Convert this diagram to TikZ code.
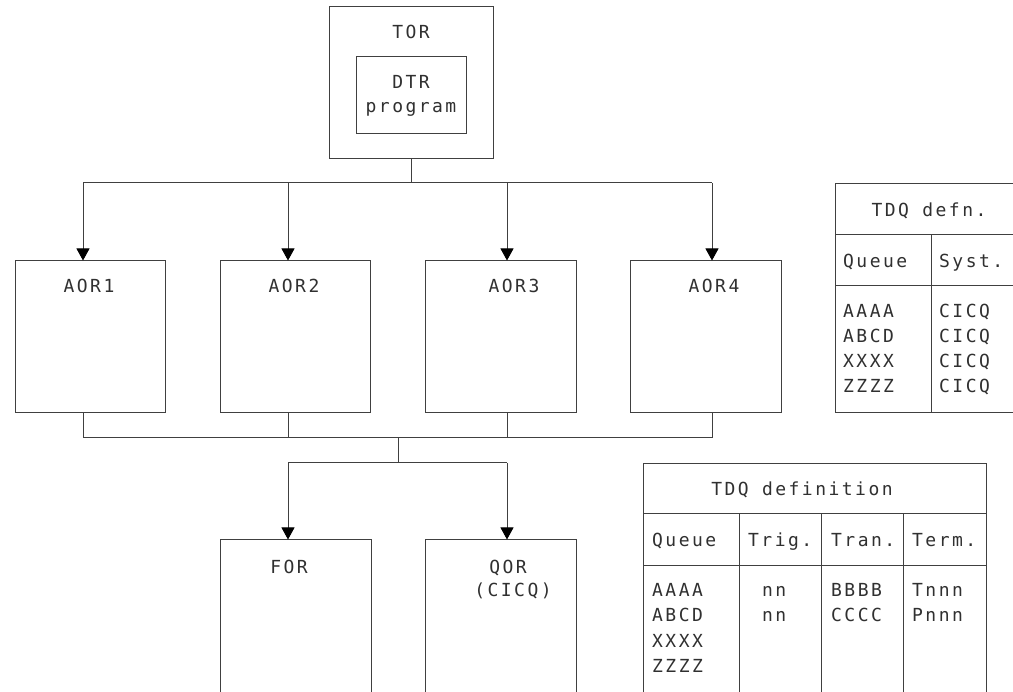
\documentclass[tikz,border=0pt]{standalone}
\usepackage{fontspec}
\usetikzlibrary{arrows.meta}
\newfontfamily\ibmfont{DejaVu Sans Mono}[LetterSpace=13.7]
\definecolor{linec}{HTML}{404040}
\definecolor{textc}{HTML}{303030}
\tikzset{
  box/.style={draw=linec, line width=1pt, minimum width=#1, inner sep=0pt},
  lbl/.style={text=textc, font=\ibmfont\fontsize{18}{25}\selectfont, inner sep=0pt},
  lblw/.style={lbl, anchor=base west},
  lblc/.style={lbl, anchor=base},
  wire/.style={draw=linec, line width=1pt},
  arr/.style={wire, -{Triangle[width=13pt,length=12pt,color=black]}, shorten >=0pt}
}
\begin{document}
\begin{tikzpicture}[x=1pt,y=-1pt]
\useasboundingbox (0,0) rectangle (1013,692);
\fill[white] (0,0) rectangle (1013,692);
\clip (0,0) rectangle (1013,692);

% TOR
\node[box=164pt, minimum height=152pt] (tor) at (411,83) {};
\node[box=110pt, minimum height=77pt] (dtr) at (411,95.5) {};
\node[lblc] (tortxt) at (411,38.5) {TOR};
\node[lblc] (dtrtxt) at (411,88.3) {DTR};
\node[lblc] (progtxt) at (411,113) {program};

% AOR boxes
\node[box=150pt, minimum height=152pt] (aor1) at (90,337) {};
\node[box=150pt, minimum height=152pt] (aor2) at (295,337) {};
\node[box=151pt, minimum height=152pt] (aor3) at (500.5,337) {};
\node[box=151pt, minimum height=152pt] (aor4) at (705.5,337) {};
\node[lblc] (a1t) at (89,293) {AOR1};
\node[lblc] (a2t) at (294,293) {AOR2};
\node[lblc] (a3t) at (514,293) {AOR3};
\node[lblc] (a4t) at (714,293) {AOR4};

% top bus
\coordinate (j0) at (411,183);
\coordinate (j1) at (83,183);
\coordinate (j2) at (288,183);
\coordinate (j3) at (507,183);
\coordinate (j4) at (712,183);
\draw[wire] (tor.south -| j0) -- (j0);
\draw[wire] (j1) -- (j4);
\draw[arr] (j1) -- (j1 |- aor1.north);
\draw[arr] (j2) -- (j2 |- aor2.north);
\draw[arr] (j3) -- (j3 |- aor3.north);
\draw[arr] (j4) -- (j4 |- aor4.north);

% bottom bus
\coordinate (k1) at (83,438);
\coordinate (k2) at (288,438);
\coordinate (k3) at (507,438);
\coordinate (k4) at (712,438);
\coordinate (m1) at (398,438);
\coordinate (m2) at (398,463);
\coordinate (n1) at (288,463);
\coordinate (n2) at (507,463);
\draw[wire] (k1 |- aor1.south) -- (k1);
\draw[wire] (k2 |- aor2.south) -- (k2);
\draw[wire] (k3 |- aor3.south) -- (k3);
\draw[wire] (k4 |- aor4.south) -- (k4);
\draw[wire] (k1) -- (k4);
\draw[wire] (m1) -- (m2);
\draw[wire] (n1) -- (n2);

% FOR / QOR
\node[box=151pt, minimum height=200pt] (for) at (295.5,640) {};
\node[box=151pt, minimum height=200pt] (qor) at (500.5,640) {};
\draw[arr] (n1) -- (n1 |- for.north);
\draw[arr] (n2) -- (n2 |- qor.north);
\node[lblc] (fort) at (289,573) {FOR};
\node[lblc] (qort) at (508,573) {QOR};
\node[lblc] (qorc) at (513,597) {(CICQ)};

% TDQ defn table
\node[box=188pt, minimum height=229pt] (t1) at (929,298.5) {};
\coordinate (t1h) at (835,235);
\coordinate (t1r) at (835,286);
\coordinate (t1c) at (931,235);
\draw[wire] (t1h) -- (t1h -| t1.east);
\draw[wire] (t1r) -- (t1r -| t1.east);
\draw[wire] (t1c) -- (t1c |- t1.south);
\node[lblc] (t1title) at (929,216.7) {TDQ defn.};
\node[lblw] (t1q) at (843,268) {Queue};
\node[lblw] (t1s) at (939,268) {Syst.};
\node[lblw] (t1a) at (843,318) {AAAA};
\node[lblw] (t1b) at (843,343) {ABCD};
\node[lblw] (t1x) at (843,367.5) {XXXX};
\node[lblw] (t1z) at (843,392.5) {ZZZZ};
\node[lblw] (t1s1) at (939,318) {CICQ};
\node[lblw] (t1s2) at (939,343) {CICQ};
\node[lblw] (t1s3) at (939,367.5) {CICQ};
\node[lblw] (t1s4) at (939,392.5) {CICQ};

% TDQ definition table
\node[box=343pt, minimum height=260pt] (t2) at (814.5,594) {};
\coordinate (t2h) at (643,514);
\coordinate (t2r) at (643,566);
\coordinate (t2c1) at (739,514);
\coordinate (t2c2) at (821,514);
\coordinate (t2c3) at (903,514);
\draw[wire] (t2h) -- (t2h -| t2.east);
\draw[wire] (t2r) -- (t2r -| t2.east);
\draw[wire] (t2c1) -- (t2c1 |- t2.south);
\draw[wire] (t2c2) -- (t2c2 |- t2.south);
\draw[wire] (t2c3) -- (t2c3 |- t2.south);
\node[lblc] (t2title) at (802,496) {TDQ definition};
\node[lblw] (t2q) at (652,547) {Queue};
\node[lblw] (t2tg) at (748,547) {Trig.};
\node[lblw] (t2tr) at (831,547) {Tran.};
\node[lblw] (t2tm) at (912,547) {Term.};
\node[lblw] (t2a) at (652,597) {AAAA};
\node[lblw] (t2b) at (652,622) {ABCD};
\node[lblw] (t2x) at (652,647) {XXXX};
\node[lblw] (t2z) at (652,672) {ZZZZ};
\node[lblw] (t2n1) at (762,597) {nn};
\node[lblw] (t2n2) at (762,622) {nn};
\node[lblw] (t2b1) at (831,597) {BBBB};
\node[lblw] (t2b2) at (831,622) {CCCC};
\node[lblw] (t2p1) at (912,597) {Tnnn};
\node[lblw] (t2p2) at (912,622) {Pnnn};
\end{tikzpicture}
\end{document}
